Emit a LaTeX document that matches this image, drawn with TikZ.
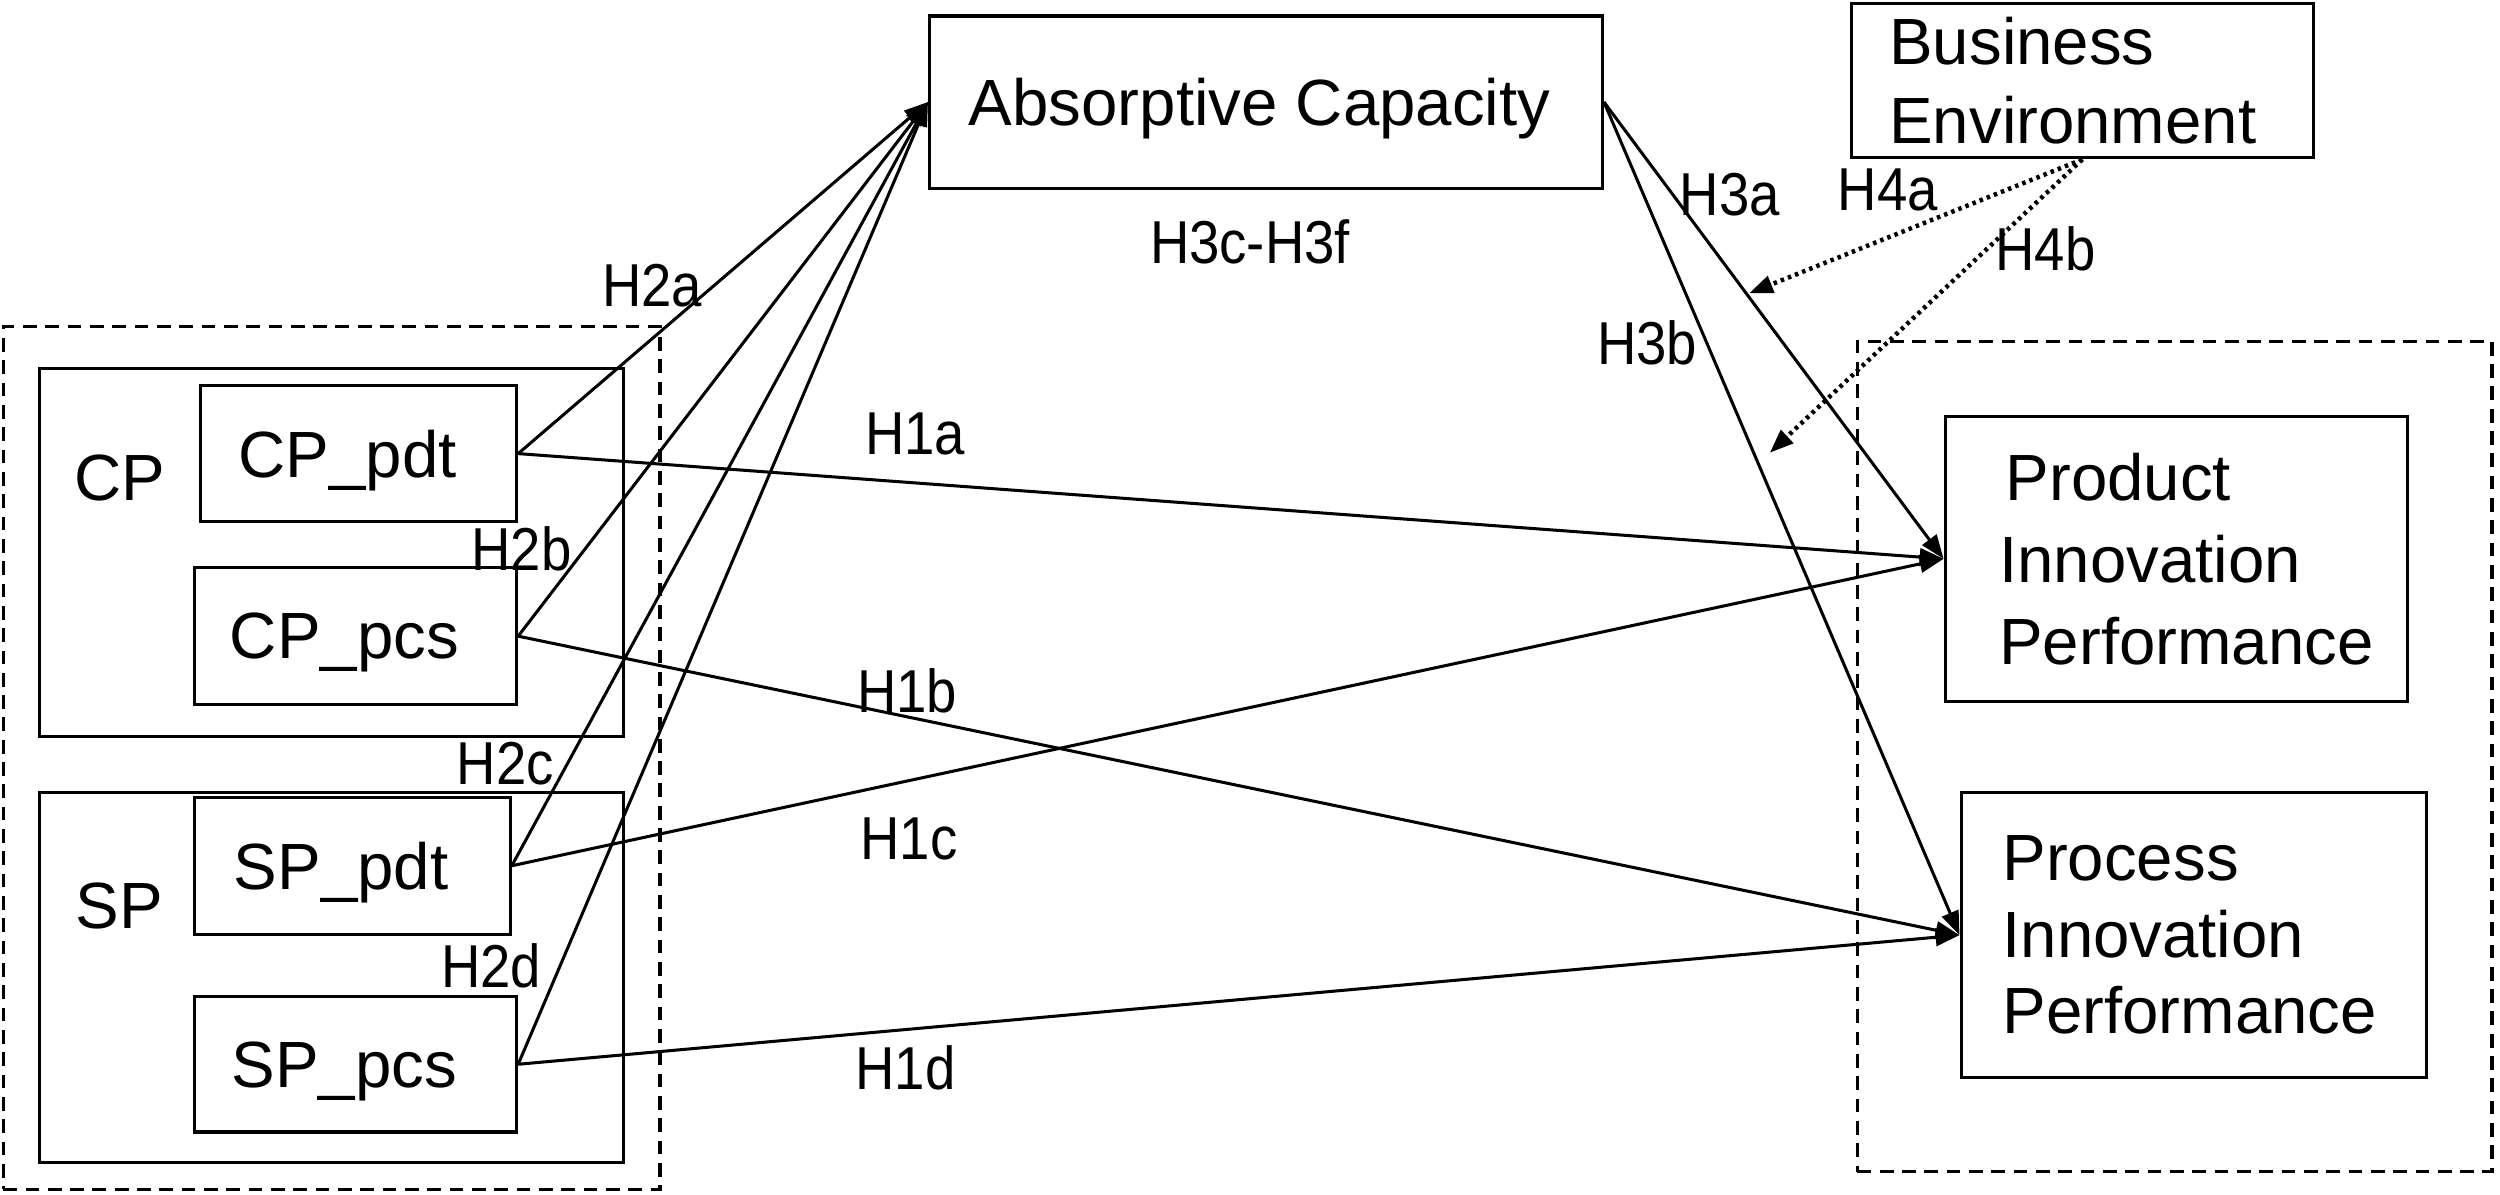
\documentclass[tikz,border=0pt]{standalone}
\usepackage{fontspec}
\setmainfont{Liberation Sans}
\newfontfamily\narrowsf[FakeStretch=0.9]{Liberation Sans}
\usetikzlibrary{arrows.meta}
\begin{document}
\begin{tikzpicture}[x=0.5pt,y=-0.5pt,
  box/.style={draw, line width=1pt, inner sep=0pt, font=\fontsize{20.5}{24}\selectfont},
  single/.style={box, text depth=0pt},
  grp/.style={draw, line width=1pt, dash pattern=on 4.3pt off 2.7pt, inner sep=0pt},
  txt/.style={inner sep=0pt, font=\fontsize{20.5}{24}\selectfont},
  lbl/.style={font=\narrowsf\fontsize{19}{22}\selectfont, inner sep=0pt},
  conn/.style={line width=0.95pt, -{Triangle[length=7.5pt,width=5.5pt]}},
  modr/.style={line width=1.4pt, dash pattern=on 1.1pt off 1.3pt, -{Triangle[length=7.5pt,width=5.5pt]}}
]
\useasboundingbox (0,0) rectangle (1568,749);
% group frames
\node[grp, minimum width=206pt, minimum height=270.5pt] (left) at (208,475.5) {};
\node[grp, minimum width=199pt, minimum height=260.5pt] (right) at (1364,474.5) {};
\node[box, minimum width=183pt, minimum height=115.5pt] (cp) at (208,346.5) {};
\node[box, minimum width=183pt, minimum height=116pt] (sp) at (208,613) {};
\node[txt] (cplab) at (75,300) {CP};
\node[txt] (splab) at (75,568) {SP};
% inner nodes
\node[single, minimum width=99pt, minimum height=42.5pt] (cppdt) at (225,284.5) {\hspace*{-7pt}CP\_pdt};
\node[single, minimum width=101pt, minimum height=43pt] (cppcs) at (223,399) {\hspace*{-7pt}CP\_pcs};
\node[single, minimum width=99pt, minimum height=43pt] (sppdt) at (221,543) {\hspace*{-7pt}SP\_pdt};
\node[single, minimum width=101pt, minimum height=42.5pt] (sppcs) at (223,667.5) {\hspace*{-7pt}SP\_pcs};
\node[single, minimum width=211pt, minimum height=54pt] (abs) at (794,64) {\hspace*{-4pt}Absorptive Capacity};
\node[box, minimum height=48.5pt, text width=121pt, inner xsep=12pt, align=left,
      font=\fontsize{20.5}{25}\selectfont, anchor=east] (be) at (1452,50.5) {Business\\Environment};
\node[box, minimum height=89.5pt, text width=111pt, inner xsep=17pt, align=left,
      font=\fontsize{20.5}{25.75}\selectfont] (prod) at (1365,350.5) {\hspace{2pt}Product\\Innovation\\Performance};
\node[box, minimum height=89.5pt, text width=120pt, inner xsep=13pt, align=left,
      font=\fontsize{20.5}{24}\selectfont] (proc) at (1376,586.5) {Process\\Innovation\\Performance};
% connectors
\draw[conn] (cppdt.east) -- (abs.west);
\draw[conn] (cppcs.east) -- (abs.west);
\draw[conn] (sppdt.east) -- (abs.west);
\draw[conn] (sppcs.east) -- (abs.west);
\draw[conn] (cppdt.east) -- (prod.west);
\draw[conn] (sppdt.east) -- (prod.west);
\draw[conn] (cppcs.east) -- (proc.west);
\draw[conn] (sppcs.east) -- (proc.west);
\draw[conn] (abs.east) -- (prod.west);
\draw[conn] (abs.east) -- (proc.west);
\coordinate (m1) at (1097,184);
\coordinate (m2) at (1110,284);
\draw[modr] (be.south) -- (m1);
\draw[modr] (be.south) -- (m2);
% labels
\node[lbl] (h2a) at (409,179) {H2a};
\node[lbl] (h2b) at (327,344) {H2b};
\node[lbl] (h2c) at (317,479) {H2c};
\node[lbl] (h2d) at (308,606) {H2d};
\node[lbl] (h1a) at (574,272) {H1a};
\node[lbl] (h1b) at (569,433) {H1b};
\node[lbl] (h1c) at (570,526) {H1c};
\node[lbl] (h1d) at (568,670) {H1d};
\node[lbl] (h3a) at (1085,122) {H3a};
\node[lbl] (h4a) at (1184,119) {H4a};
\node[lbl] (h4b) at (1283,156) {H4b};
\node[lbl] (h3b) at (1033,215) {H3b};
\node[lbl] (h3cf) at (784,152) {H3c-H3f};
\end{tikzpicture}
\end{document}
